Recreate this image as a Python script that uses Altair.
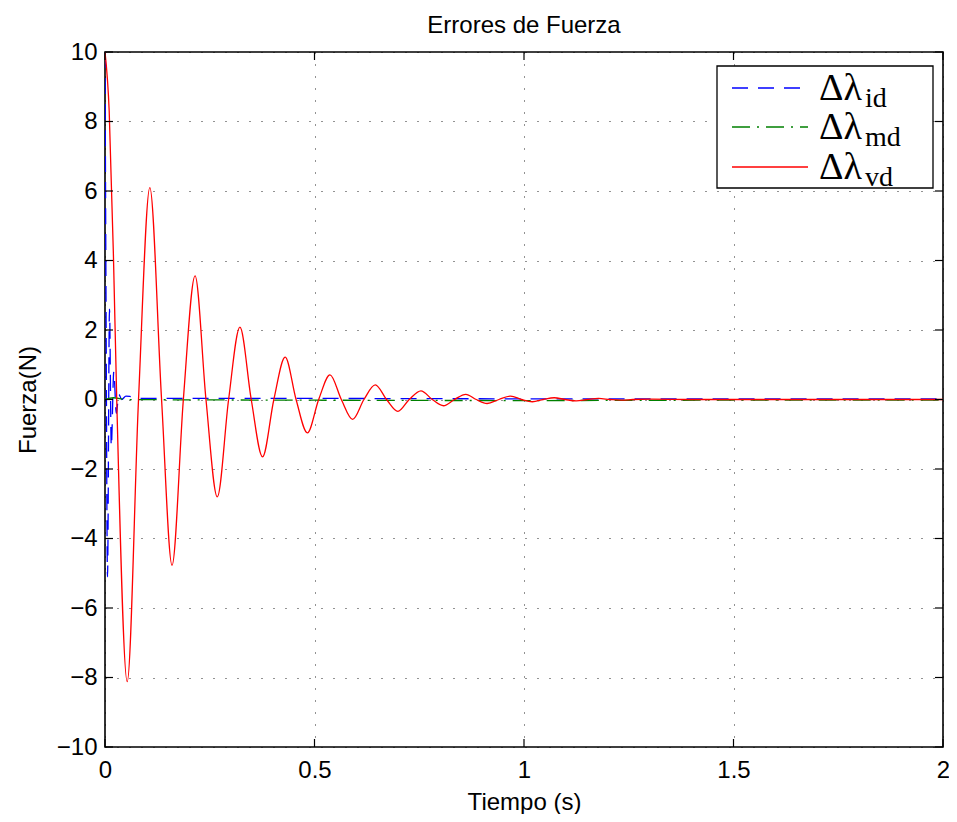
import altair as alt
import pandas as pd

# ---------------- data ----------------
# Δλ_id  (blue, dashed)
t_id = [0.0, 0.0024, 0.006, 0.0107, 0.015, 0.021, 0.027, 0.033, 0.040, 0.050, 0.062, 0.083, 0.2, 0.5, 1.0, 1.5, 2.0]
f_id = [10.0, 3.0, -5.1, 2.6, -1.35, 0.8, -0.4, 0.15, 0.0, 0.1, 0.08, 0.03, 0.03, 0.03, 0.02, 0.02, 0.02]

# Δλ_md  (green, dash-dot)
t_md = [0.0, 0.02, 0.05, 0.5, 1.0, 1.5, 2.0]
f_md = [0.0, 0.05, 0.0, -0.02, -0.03, -0.02, -0.02]

# Δλ_vd  (red, solid)
t_vd = [0.0, 0.010, 0.020, 0.028, 0.053, 0.080, 0.107, 0.135, 0.160, 0.187,
        0.215, 0.241, 0.268, 0.295, 0.322, 0.349, 0.376, 0.403, 0.430, 0.456,
        0.483, 0.510, 0.537, 0.564, 0.591, 0.618, 0.645, 0.672, 0.699, 0.726,
        0.754, 0.781, 0.808, 0.834, 0.861, 0.886, 0.912, 0.940, 0.968, 0.994,
        1.020, 1.046, 1.072, 1.098, 1.125, 1.151, 1.178, 1.205, 1.232, 1.260,
        1.300, 1.400, 1.600, 2.000]
f_vd = [10.0, 8.3, 4.2, 0.0, -8.12, 0.0, 6.1, 0.0, -4.77, 0.0,
        3.56, 0.0, -2.8, 0.0, 2.08, 0.0, -1.65, 0.0, 1.22, 0.0,
        -0.96, 0.0, 0.71, 0.0, -0.57, 0.0, 0.42, 0.0, -0.34, 0.0,
        0.25, 0.0, -0.18, 0.0, 0.15, 0.0, -0.115, 0.0, 0.10, 0.0,
        -0.065, 0.0, 0.05, 0.0, -0.04, 0.0, 0.03, 0.0, -0.02, 0.0,
        0.01, 0.0, 0.0, 0.0]

x_ticks = [0, 0.5, 1, 1.5, 2]
y_ticks = [-10, -8, -6, -4, -2, 0, 2, 4, 6, 8, 10]

series_keys = ["id", "md", "vd"]
series_colors = ["#0000ff", "#008000", "#ff0000"]
series_dash = [[16, 10], [18, 7, 2, 7], [1, 0]]

title_text = "Errores de Fuerza"
x_title = "Tiempo (s)"
y_title = "Fuerza(N)"

# ---------------- layout ----------------
W, H = 838, 695
SANS = "Liberation Sans"
SERIF = "Liberation Serif"
FS = 24

x_scale = alt.Scale(domain=[0, 2], nice=False, zero=False)
y_scale = alt.Scale(domain=[-10, 10], nice=False, zero=False)


def x_axis():
    return alt.Axis(values=x_ticks, format="~g", grid=True, gridDash=[1, 11],
                    gridColor="#000000", gridOpacity=0.85, gridWidth=1,
                    ticks=False, domain=False, labelFlush=False,
                    labelFont=SANS, labelFontSize=FS, labelColor="#000000",
                    labelPadding=11, title=x_title, titleFont=SANS,
                    titleFontSize=FS, titleFontWeight="normal",
                    titleColor="#000000", titlePadding=8)


def y_axis():
    return alt.Axis(values=y_ticks, grid=True, gridDash=[1, 11],
                    gridColor="#000000", gridOpacity=0.85, gridWidth=1,
                    ticks=False, domain=False, labelFlush=False,
                    labelFont=SANS, labelFontSize=FS, labelColor="#000000",
                    labelPadding=8, title=y_title, titleFont=SANS,
                    titleFontSize=FS, titleFontWeight="normal",
                    titleColor="#000000", titlePadding=16)


data_sets = {"id": (t_id, f_id), "md": (t_md, f_md), "vd": (t_vd, f_vd)}

layers = []
for i, key in enumerate(series_keys):
    t, f = data_sets[key]
    d = pd.DataFrame({"t": t, "f": f})
    mk = dict(color=series_colors[i], strokeWidth=1.3, interpolate="monotone", clip=True)
    if key != "vd":
        mk["strokeDash"] = series_dash[i]
    layers.append(
        alt.Chart(d).mark_line(**mk).encode(
            x=alt.X("t:Q", scale=x_scale, axis=x_axis()),
            y=alt.Y("f:Q", scale=y_scale, axis=y_axis()),
        )
    )

# inward tick marks on all four sides (MATLAB box)
TL = 8
xt = pd.DataFrame({"t": x_ticks})
yt = pd.DataFrame({"f": y_ticks})
tick_style = dict(color="#000000", strokeWidth=1.2)
layers += [
    alt.Chart(xt).mark_rule(**tick_style).encode(
        x=alt.X("t:Q", scale=x_scale, axis=x_axis()), y=alt.value(H), y2=alt.value(H - TL)),
    alt.Chart(xt).mark_rule(**tick_style).encode(
        x=alt.X("t:Q", scale=x_scale, axis=x_axis()), y=alt.value(0), y2=alt.value(TL)),
    alt.Chart(yt).mark_rule(**tick_style).encode(
        y=alt.Y("f:Q", scale=y_scale, axis=y_axis()), x=alt.value(0), x2=alt.value(TL)),
    alt.Chart(yt).mark_rule(**tick_style).encode(
        y=alt.Y("f:Q", scale=y_scale, axis=y_axis()), x=alt.value(W), x2=alt.value(W - TL)),
]

one = pd.DataFrame({"k": [0]})

# title as a text mark above the plot
layers.append(
    alt.Chart(one).mark_text(text=title_text, font=SANS, fontSize=FS, align="center",
                             baseline="alphabetic", color="#000000").encode(
        x=alt.value(W / 2), y=alt.value(-19))
)

# legend box (drawn by hand so that subscripts can be set)
LX0, LX1, LY0, LY1 = 612, 828, 14, 136
layers.append(
    alt.Chart(one).mark_rect(fill="#ffffff", stroke="#000000", strokeWidth=1.3).encode(
        x=alt.value(LX0), x2=alt.value(LX1), y=alt.value(LY0), y2=alt.value(LY1))
)
row_y = [36, 75, 115]
MAIN_X, SUB_X = 714, 760
for i, key in enumerate(series_keys):
    ry = row_y[i]
    rule_kw = dict(color=series_colors[i], strokeWidth=1.3)
    if key != "vd":
        rule_kw["strokeDash"] = series_dash[i]
    layers.append(
        alt.Chart(one).mark_rule(**rule_kw).encode(
            x=alt.value(627), x2=alt.value(703), y=alt.value(ry))
    )
    layers.append(
        alt.Chart(one).mark_text(text="Δλ", font=SERIF, fontSize=38, align="left",
                                 baseline="alphabetic", color="#000000").encode(
            x=alt.value(MAIN_X), y=alt.value(ry + 12))
    )
    layers.append(
        alt.Chart(one).mark_text(text=key, font=SERIF, fontSize=28, align="left",
                                 baseline="alphabetic", color="#000000").encode(
            x=alt.value(SUB_X), y=alt.value(ry + 19))
    )

chart = alt.layer(*layers).properties(
    width=W, height=H,
    autosize=alt.AutoSizeParams(type="none"),
    padding={"left": 97, "top": 44, "right": 6, "bottom": 67},
).configure_view(stroke="#000000", strokeWidth=1.6)

chart.save("out.html", embed_options={"renderer": "svg", "actions": False})
